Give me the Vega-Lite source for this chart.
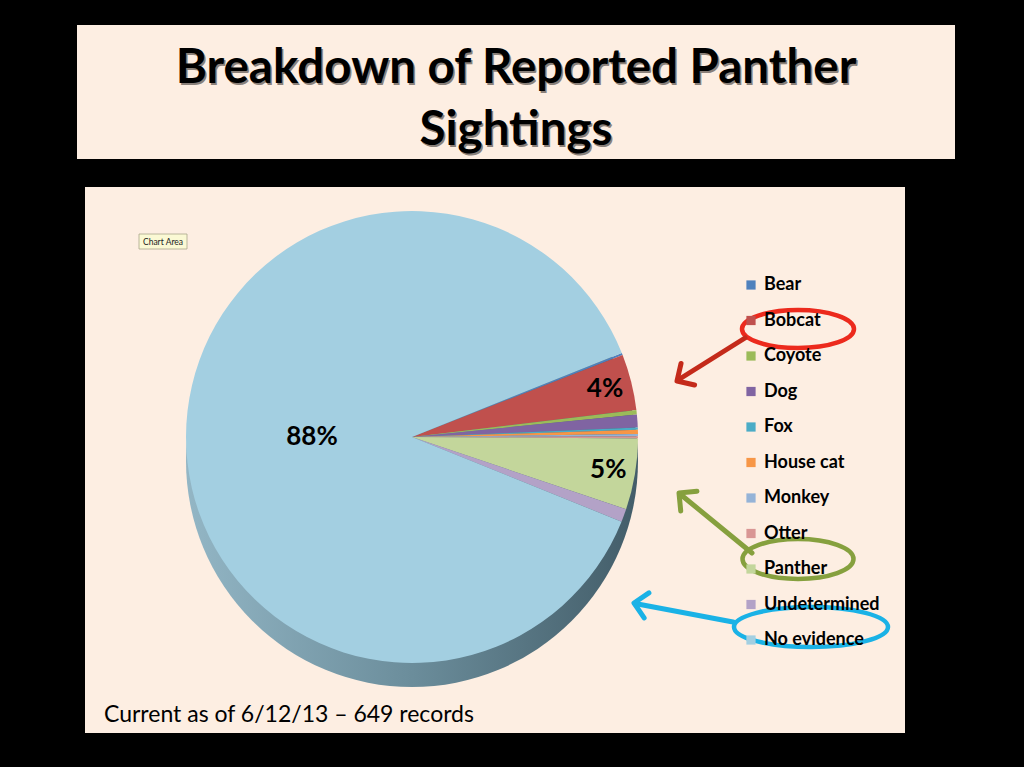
{
  "$schema": "https://vega.github.io/schema/vega-lite/v6.json",
  "width": 1024,
  "height": 767,
  "autosize": {"type": "fit", "contains": "padding"},
  "padding": 0,
  "background": "#000000",
  "config": {
    "view": {"stroke": null},
    "axis": {"disable": true},
    "legend": {
      "orient": "none",
      "legendX": 742,
      "legendY": 276,
      "symbolType": "square",
      "symbolSize": 85,
      "symbolStrokeWidth": 0,
      "labelFont": "Lato",
      "labelFontWeight": "bold",
      "labelFontSize": 18,
      "labelColor": "#000000",
      "labelOffset": 4,
      "rowPadding": 17.5,
      "padding": 0
    }
  },
  "datasets": {
    "sightings": [
      {"animal": "Bear", "count": 1},
      {"animal": "Bobcat", "count": 26},
      {"animal": "Coyote", "count": 2},
      {"animal": "Dog", "count": 6},
      {"animal": "Fox", "count": 1},
      {"animal": "House cat", "count": 2},
      {"animal": "Monkey", "count": 1},
      {"animal": "Otter", "count": 1},
      {"animal": "Panther", "count": 33},
      {"animal": "Undetermined", "count": 6},
      {"animal": "No evidence", "count": 570}
    ]
  },
  "data": {"name": "sightings"},
  "layer": [
    {
      "data": {"values": [{}]},
      "mark": {"type": "rect", "fill": "#fdeee2"},
      "encoding": {
        "x": {"datum": 77, "type": "quantitative", "scale": {"domain": [0, 1024], "nice": false, "zero": false}},
        "x2": {"datum": 955},
        "y": {"datum": 25, "type": "quantitative", "scale": {"domain": [0, 767], "nice": false, "zero": false, "reverse": true}},
        "y2": {"datum": 159}
      }
    },
    {
      "data": {"values": [{}]},
      "mark": {"type": "rect", "fill": "#fdeee2"},
      "encoding": {
        "x": {"datum": 85, "type": "quantitative", "scale": {"domain": [0, 1024], "nice": false, "zero": false}},
        "x2": {"datum": 905},
        "y": {"datum": 187, "type": "quantitative", "scale": {"domain": [0, 767], "nice": false, "zero": false, "reverse": true}},
        "y2": {"datum": 733}
      }
    },
    {
      "data": {"values": [{}]},
      "mark": {
        "type": "text",
        "text": ["Breakdown of Reported Panther", "Sightings"],
        "font": "Lato",
        "fontWeight": "bold",
        "fontSize": 47.5,
        "lineHeight": 62,
        "align": "center",
        "baseline": "alphabetic",
        "color": "#8a8079",
        "dx": 1.5,
        "dy": 1.5
      },
      "encoding": {
        "x": {"datum": 516, "type": "quantitative", "scale": {"domain": [0, 1024], "nice": false, "zero": false}},
        "y": {"datum": 83, "type": "quantitative", "scale": {"domain": [0, 767], "nice": false, "zero": false, "reverse": true}}
      }
    },
    {
      "data": {"values": [{}]},
      "mark": {
        "type": "text",
        "text": ["Breakdown of Reported Panther", "Sightings"],
        "font": "Lato",
        "fontWeight": "bold",
        "fontSize": 47.5,
        "lineHeight": 62,
        "align": "center",
        "baseline": "alphabetic",
        "color": "#000000"
      },
      "encoding": {
        "x": {"datum": 516, "type": "quantitative", "scale": {"domain": [0, 1024], "nice": false, "zero": false}},
        "y": {"datum": 83, "type": "quantitative", "scale": {"domain": [0, 767], "nice": false, "zero": false, "reverse": true}}
      }
    },
    {
      "data": {"values": [{}]},
      "mark": {
        "type": "arc",
        "radius": 226,
        "fill": {
          "gradient": "linear",
          "x1": 0, "y1": 0, "x2": 1, "y2": 0,
          "stops": [
            {"offset": 0, "color": "#93b6c5"},
            {"offset": 0.5, "color": "#6b8d9b"},
            {"offset": 1, "color": "#435d69"}
          ]
        }
      },
      "encoding": {
        "x": {"datum": 412, "type": "quantitative", "scale": {"domain": [0, 1024], "nice": false, "zero": false}},
        "y": {"datum": 461, "type": "quantitative", "scale": {"domain": [0, 767], "nice": false, "zero": false, "reverse": true}}
      }
    },
    {
      "transform": [
        {"window": [{"op": "row_number", "as": "idx"}]}
      ],
      "mark": {"type": "arc", "radius": 226, "stroke": null},
      "encoding": {
        "x": {"datum": 412, "type": "quantitative", "scale": {"domain": [0, 1024], "nice": false, "zero": false}},
        "y": {"datum": 437, "type": "quantitative", "scale": {"domain": [0, 767], "nice": false, "zero": false, "reverse": true}},
        "theta": {"field": "count", "type": "quantitative", "stack": true, "scale": {"range": [1.19, 7.4732]}},
        "order": {"field": "idx", "type": "quantitative"},
        "color": {
          "field": "animal",
          "type": "nominal",
          "title": null,
          "scale": {
            "domain": ["Bear", "Bobcat", "Coyote", "Dog", "Fox", "House cat", "Monkey", "Otter", "Panther", "Undetermined", "No evidence"],
            "range": ["#4f81bd", "#c0504d", "#9bbb59", "#8064a2", "#4bacc6", "#f79646", "#95b3d7", "#d99694", "#c3d69b", "#b3a2c7", "#a3cfe1"]
          }
        }
      }
    },
    {
      "transform": [
        {"window": [{"op": "row_number", "as": "idx"}]},
        {"joinaggregate": [{"op": "sum", "field": "count", "as": "total"}]},
        {"stack": "count", "groupby": [], "sort": [{"field": "idx", "order": "ascending"}], "as": ["s0", "s1"]},
        {"calculate": "(datum.s0 + datum.s1) / 2", "as": "mid"},
        {"calculate": "datum.count / datum.total", "as": "pct"},
        {"filter": "datum.pct >= 0.03 && datum.pct < 0.5"}
      ],
      "mark": {"type": "text", "font": "Lato", "fontWeight": "bold", "fontSize": 26, "color": "#000000", "align": "center", "baseline": "middle", "radius": 199},
      "encoding": {
        "x": {"datum": 412, "type": "quantitative", "scale": {"domain": [0, 1024], "nice": false, "zero": false}},
        "y": {"datum": 437, "type": "quantitative", "scale": {"domain": [0, 767], "nice": false, "zero": false, "reverse": true}},
        "theta": {"field": "mid", "type": "quantitative", "stack": null},
        "text": {"field": "pct", "type": "quantitative", "format": ".0%"}
      }
    },
    {
      "transform": [
        {"window": [{"op": "row_number", "as": "idx"}]},
        {"joinaggregate": [{"op": "sum", "field": "count", "as": "total"}]},
        {"stack": "count", "groupby": [], "sort": [{"field": "idx", "order": "ascending"}], "as": ["s0", "s1"]},
        {"calculate": "(datum.s0 + datum.s1) / 2", "as": "mid"},
        {"calculate": "datum.count / datum.total", "as": "pct"},
        {"filter": "datum.pct >= 0.5"}
      ],
      "mark": {"type": "text", "font": "Lato", "fontWeight": "bold", "fontSize": 26, "color": "#000000", "align": "center", "baseline": "middle", "radius": 100},
      "encoding": {
        "x": {"datum": 412, "type": "quantitative", "scale": {"domain": [0, 1024], "nice": false, "zero": false}},
        "y": {"datum": 437, "type": "quantitative", "scale": {"domain": [0, 767], "nice": false, "zero": false, "reverse": true}},
        "theta": {"field": "mid", "type": "quantitative", "stack": null},
        "text": {"field": "pct", "type": "quantitative", "format": ".0%"}
      }
    },
    {
      "data": {"values": [{}]},
      "mark": {"type": "text", "text": "Current as of 6/12/13 \u2013 649 records", "font": "Lato", "fontSize": 23, "align": "left", "baseline": "alphabetic", "color": "#000000"},
      "encoding": {
        "x": {"datum": 104, "type": "quantitative", "scale": {"domain": [0, 1024], "nice": false, "zero": false}},
        "y": {"datum": 722, "type": "quantitative", "scale": {"domain": [0, 767], "nice": false, "zero": false, "reverse": true}}
      }
    },
    {
      "data": {"values": [{}]},
      "mark": {"type": "rect", "fill": "#fbf9d4", "stroke": "#aaa68a", "strokeWidth": 0.8},
      "encoding": {
        "x": {"datum": 139, "type": "quantitative", "scale": {"domain": [0, 1024], "nice": false, "zero": false}},
        "x2": {"datum": 187},
        "y": {"datum": 234, "type": "quantitative", "scale": {"domain": [0, 767], "nice": false, "zero": false, "reverse": true}},
        "y2": {"datum": 249}
      }
    },
    {
      "data": {"values": [{}]},
      "mark": {"type": "text", "text": "Chart Area", "font": "Lato", "fontSize": 8.5, "align": "center", "baseline": "middle", "color": "#222222"},
      "encoding": {
        "x": {"datum": 163, "type": "quantitative", "scale": {"domain": [0, 1024], "nice": false, "zero": false}},
        "y": {"datum": 241.5, "type": "quantitative", "scale": {"domain": [0, 767], "nice": false, "zero": false, "reverse": true}}
      }
    },
    {
      "data": {"values": [{}]},
      "mark": {"type": "point", "shape": "M -1 0 A 1 0.34 0 1 1 1 0 A 1 0.34 0 1 1 -1 0 Z", "size": 12544, "filled": false, "stroke": "#ec2a1d", "strokeWidth": 4.5, "opacity": 1},
      "encoding": {
        "x": {"datum": 798, "type": "quantitative", "scale": {"domain": [0, 1024], "nice": false, "zero": false}},
        "y": {"datum": 329, "type": "quantitative", "scale": {"domain": [0, 767], "nice": false, "zero": false, "reverse": true}}
      }
    },
    {
      "data": {"values": [{}]},
      "mark": {"type": "point", "shape": "M -1 0 A 1 0.36 0 1 1 1 0 A 1 0.36 0 1 1 -1 0 Z", "size": 12321, "filled": false, "stroke": "#86a03e", "strokeWidth": 4.5, "opacity": 1},
      "encoding": {
        "x": {"datum": 798, "type": "quantitative", "scale": {"domain": [0, 1024], "nice": false, "zero": false}},
        "y": {"datum": 559, "type": "quantitative", "scale": {"domain": [0, 767], "nice": false, "zero": false, "reverse": true}}
      }
    },
    {
      "data": {"values": [{}]},
      "mark": {"type": "point", "shape": "M -1 0 A 1 0.26 0 1 1 1 0 A 1 0.26 0 1 1 -1 0 Z", "size": 23716, "filled": false, "stroke": "#1ab2e6", "strokeWidth": 4.5, "opacity": 1},
      "encoding": {
        "x": {"datum": 811, "type": "quantitative", "scale": {"domain": [0, 1024], "nice": false, "zero": false}},
        "y": {"datum": 627, "type": "quantitative", "scale": {"domain": [0, 767], "nice": false, "zero": false, "reverse": true}}
      }
    },
    {
      "data": {"values": [{}]},
      "mark": {"type": "rule", "stroke": "#c42a1a", "strokeWidth": 5, "strokeCap": "round"},
      "encoding": {
        "x": {"datum": 745, "type": "quantitative", "scale": {"domain": [0, 1024], "nice": false, "zero": false}},
        "x2": {"datum": 678},
        "y": {"datum": 338, "type": "quantitative", "scale": {"domain": [0, 767], "nice": false, "zero": false, "reverse": true}},
        "y2": {"datum": 380}
      }
    },
    {
      "data": {"values": [{}]},
      "mark": {"type": "point", "shape": "M -1 -1 L 0 0 L -1 1", "size": 650, "filled": false, "stroke": "#c42a1a", "strokeWidth": 5, "strokeCap": "round", "strokeJoin": "round", "angle": 148, "opacity": 1},
      "encoding": {
        "x": {"datum": 677, "type": "quantitative", "scale": {"domain": [0, 1024], "nice": false, "zero": false}},
        "y": {"datum": 381, "type": "quantitative", "scale": {"domain": [0, 767], "nice": false, "zero": false, "reverse": true}}
      }
    },
    {
      "data": {"values": [{}]},
      "mark": {"type": "rule", "stroke": "#86a03e", "strokeWidth": 5, "strokeCap": "round"},
      "encoding": {
        "x": {"datum": 752, "type": "quantitative", "scale": {"domain": [0, 1024], "nice": false, "zero": false}},
        "x2": {"datum": 680},
        "y": {"datum": 553, "type": "quantitative", "scale": {"domain": [0, 767], "nice": false, "zero": false, "reverse": true}},
        "y2": {"datum": 494}
      }
    },
    {
      "data": {"values": [{}]},
      "mark": {"type": "point", "shape": "M -1 -1 L 0 0 L -1 1", "size": 650, "filled": false, "stroke": "#86a03e", "strokeWidth": 5, "strokeCap": "round", "strokeJoin": "round", "angle": 219.5, "opacity": 1},
      "encoding": {
        "x": {"datum": 679, "type": "quantitative", "scale": {"domain": [0, 1024], "nice": false, "zero": false}},
        "y": {"datum": 493, "type": "quantitative", "scale": {"domain": [0, 767], "nice": false, "zero": false, "reverse": true}}
      }
    },
    {
      "data": {"values": [{}]},
      "mark": {"type": "rule", "stroke": "#1ab2e6", "strokeWidth": 5, "strokeCap": "round"},
      "encoding": {
        "x": {"datum": 733, "type": "quantitative", "scale": {"domain": [0, 1024], "nice": false, "zero": false}},
        "x2": {"datum": 635},
        "y": {"datum": 622, "type": "quantitative", "scale": {"domain": [0, 767], "nice": false, "zero": false, "reverse": true}},
        "y2": {"datum": 603.5}
      }
    },
    {
      "data": {"values": [{}]},
      "mark": {"type": "point", "shape": "M -1 -1 L 0 0 L -1 1", "size": 650, "filled": false, "stroke": "#1ab2e6", "strokeWidth": 5, "strokeCap": "round", "strokeJoin": "round", "angle": 190.8, "opacity": 1},
      "encoding": {
        "x": {"datum": 634, "type": "quantitative", "scale": {"domain": [0, 1024], "nice": false, "zero": false}},
        "y": {"datum": 603, "type": "quantitative", "scale": {"domain": [0, 767], "nice": false, "zero": false, "reverse": true}}
      }
    }
  ]
}
